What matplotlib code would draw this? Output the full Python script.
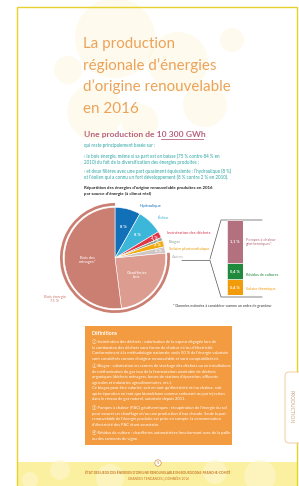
import numpy as np
import matplotlib.pyplot as plt
from matplotlib.patches import Circle, Rectangle, FancyBboxPatch

W, H = 299, 486

# pie data (% of 2016 renewable production)
pie_labels = ['Hydraulique', 'Éolien', 'Incinération des déchets', 'Biogaz',
              'Solaire photovoltaïque', 'Autres', 'Chaufferies\nbois', 'Bois des\nménages*']
pie_values = [8, 8, 2, 1, 2, 2, 24, 51]
pie_colors = ['#1170b8', '#3cb6d9', '#e0364a', '#8fa597', '#f2ac12', '#cfc7c5',
              '#dd9c90', '#cb7f73']
label_colors = ['#1170b8', '#3cb6d9', '#d43a52', '#8fa597', '#e8a010', '#b9b1b0']
bois_total = 75

# detail of "Autres"
autres_labels = ['Solaire thermique', 'Résidus de cultures', 'Pompes à chaleur\ngéothermiques*']
autres_values = [0.4, 0.4, 1.1]
autres_colors = ['#f29c0c', '#1f8a3c', '#b3707e']

FONTS = ['Lato', 'DejaVu Sans']
plt.rcParams['font.family'] = FONTS

fig = plt.figure(figsize=(W / 100, H / 100), dpi=100)
page = fig.add_axes([0, 0, 1, 1])
page.set_xlim(0, W)
page.set_ylim(H, 0)
page.axis('off')

# page background, faint bokeh circles and frame
for cx, cy, r in [(115, 38, 40), (178, 62, 30), (95, 112, 28), (205, 105, 22),
                  (140, 122, 18), (68, 70, 14), (232, 40, 12)]:
    page.add_patch(Circle((cx, cy), r, color='#fdf6d8', alpha=0.45, lw=0))
page.add_patch(Rectangle((17, 462), 281, 30, color='#fbf0a0', lw=0))
for cx, cy, r in [(60, 470, 10), (110, 478, 14), (215, 472, 12), (260, 476, 16), (30, 480, 8)]:
    page.add_patch(Circle((cx, cy), r, color='#fdf7cf', alpha=0.6, lw=0))
page.add_patch(Rectangle((17, 7), 280, 490, fill=False, ec='#e6d22c', lw=1.0))

# title
title_lines = ['La production', 'régionale d’énergies', 'd’origine renouvelable', 'en 2016']
for i, t in enumerate(title_lines):
    page.text(83, 44 + i * 21.5, t, color='#eba35a', fontsize=10.9,
              va='center', ha='left')

page.text(84, 134, 'Une production de 10 300 GWh', color='#b8627e', fontsize=6.1,
          fontweight='bold', va='center')
page.plot([161, 203], [139, 139], color='#b8627e', lw=0.6)

teal_lines = [
    (145, 'qui reste principalement basée sur :'),
    (156, '› le bois énergie, même si sa part est en baisse (75 % contre 84 % en'),
    (162, '2010) du fait de la diversification des énergies produites ;'),
    (171, '› et deux filières avec une part quasiment équivalente : l’hydraulique (8 %)'),
    (177, 'et l’éolien qui a connu un fort développement (8 % contre 2 % en 2010).'),
]
for y, t in teal_lines:
    page.text(84, y, t, color='#26a3a0', fontsize=3.25, va='center')

page.text(84, 188, 'Répartition des énergies d’origine renouvelable produites en 2016',
          color='#222222', fontsize=3.2, fontweight='bold', va='center')
page.text(84, 194, 'par source d’énergie (à climat réel)',
          color='#222222', fontsize=3.2, fontweight='bold', va='center')

# pie
cx, cy, R = 115, 258, 55
pax = fig.add_axes([(cx - R) / W, 1 - (cy + R) / H, 2 * R / W, 2 * R / H])
others_sum = sum(pie_values[:6])
pax.pie([others_sum, bois_total], colors=['none', '#cb7f73'], radius=1.0,
        startangle=90, counterclock=False, wedgeprops=dict(width=0.05, lw=0))
wedges, _ = pax.pie(pie_values, colors=pie_colors, radius=0.92, startangle=90,
                    counterclock=False, wedgeprops=dict(edgecolor='white', lw=0.4))
pax.set_xlim(-1, 1)
pax.set_ylim(-1, 1)
pax.set_aspect('equal')
pax.axis('off')

for i, w in enumerate(wedges[:6]):
    ang = np.deg2rad((w.theta1 + w.theta2) / 2)
    r = 0.58 if pie_values[i] > 5 else 0.8
    pax.text(r * np.cos(ang), r * np.sin(ang), f'{pie_values[i]} %', color='white',
             fontsize=3.0, fontweight='bold', ha='center', va='center')
for i, w in enumerate(wedges[6:]):
    ang = np.deg2rad((w.theta1 + w.theta2) / 2)
    pax.text(0.5 * np.cos(ang), 0.5 * np.sin(ang), pie_labels[6 + i], color='white',
             fontsize=3.0, ha='center', va='center', linespacing=1.1)

label_pos = [(140, 206), (158, 218), (167, 233), (169, 242), (169, 249), (172, 257)]
for (x, y), t, c in zip(label_pos, pie_labels[:6], label_colors):
    page.text(x, y, t, color=c, fontsize=3.0, va='center')
page.text(55, 299, 'Bois énergie\n75 %', color='#cb7f73', fontsize=3.0, ha='center',
          va='center', linespacing=1.1)

# bracket to the "Autres" detail
page.plot([182, 210, 221, 262], [260.5, 260.5, 297, 297], color='#555555', lw=0.5)
page.plot([210, 221, 262], [259, 220, 220], color='#555555', lw=0.5)

# stacked bar of "Autres"
bx0, bx1, by0, by1 = 227, 243, 220, 295
bax = fig.add_axes([bx0 / W, 1 - by1 / H, (bx1 - bx0) / W, (by1 - by0) / H])
bottom = 0
for v, c in zip(autres_values, autres_colors):
    bax.bar(0, v, width=1, bottom=bottom, color=c, edgecolor='white', lw=0.4)
    bax.text(0, bottom + v / 2, f'{v:.1f} %'.replace('.', ','), color='white',
             fontsize=2.8, fontweight='bold', ha='center', va='center')
    bottom += v
bax.set_xlim(-0.5, 0.5)
bax.set_ylim(0, bottom)
bax.axis('off')

bar_label_y = [289, 275, 242]
for y, t, c in zip(bar_label_y, autres_labels, autres_colors):
    page.text(246, y, t, color=c, fontsize=2.8, va='center', linespacing=1.1)

page.text(173, 306, '* Données estimées à considérer comme un ordre de grandeur',
          color='#333333', fontsize=2.6, va='center')

# definitions box
page.add_patch(Rectangle((85, 326), 147, 119, color='#f39b40', lw=0))
page.text(92, 333, 'Définitions', color='white', fontsize=3.8, fontweight='bold', va='center')
defs = [
    (342, '① Incinération des déchets : valorisation de la vapeur dégagée lors de'),
    (347.5, 'la combustion des déchets sous forme de chaleur et/ou d’électricité.'),
    (353, 'Conformément à la méthodologie nationale, seuls 50 % de l’énergie valorisée'),
    (358.5, 'sont considérés comme d’origine renouvelable et sont comptabilisés ici.'),
    (366, '② Biogaz : valorisation en centres de stockage des déchets ou en installations'),
    (371.5, 'de méthanisation du gaz issu de la fermentation anaérobie de déchets'),
    (377, 'organiques (déchets ménagers, boues de stations d’épuration, effluents'),
    (382.5, 'agricoles et industries agroalimentaires, etc.).'),
    (388, 'Ce biogaz peut être valorisé, soit en tant qu’électricité et/ou chaleur, soit'),
    (393.5, 'après épuration en tant que biométhane comme carburant ou par injection'),
    (399, 'dans le réseau de gaz naturel, autorisée depuis 2011.'),
    (408, '③ Pompes à chaleur (PAC) géothermiques : récupération de l’énergie du sol'),
    (413.5, 'pour assurer un chauffage et/ou une production d’eau chaude. Seule la part'),
    (419, 'renouvelable de l’énergie produite est prise en compte, la consommation'),
    (424.5, 'd’électricité des PAC étant soustraite.'),
    (433, '④ Résidus de culture : chaufferies automatisées fonctionnant avec de la paille'),
    (438.5, 'ou des sarments de vigne.'),
]
for y, t in defs:
    page.text(92, y, t, color='white', fontsize=3.0, va='center', family=FONTS)

# side tab
page.add_patch(FancyBboxPatch((285, 372), 20, 71, boxstyle='round,pad=0,rounding_size=4',
                              fc='white', ec='#f0c890', lw=0.6))
page.text(291, 407, 'PRODUCTION', color='#c9a67e', fontsize=3.6, rotation=-90,
          ha='center', va='center')

# footer
page.add_patch(Circle((158, 463), 3.2, fc='white', ec='#d49040', lw=0.5))
page.text(158, 463.3, '5', color='#c8741e', fontsize=2.8, ha='center', va='center')
page.text(158, 473, 'ÉTAT DES LIEUX DES ÉNERGIES D’ORIGINE RENOUVELABLE EN BOURGOGNE-FRANCHE-COMTÉ',
          color='#c8741e', fontsize=2.3, fontweight='bold', ha='center', va='center')
page.text(158, 478.5, 'GRANDES TENDANCES | DONNÉES 2016', color='#c8741e', fontsize=2.3,
          ha='center', va='center')

fig.savefig('out.png', dpi=100)
